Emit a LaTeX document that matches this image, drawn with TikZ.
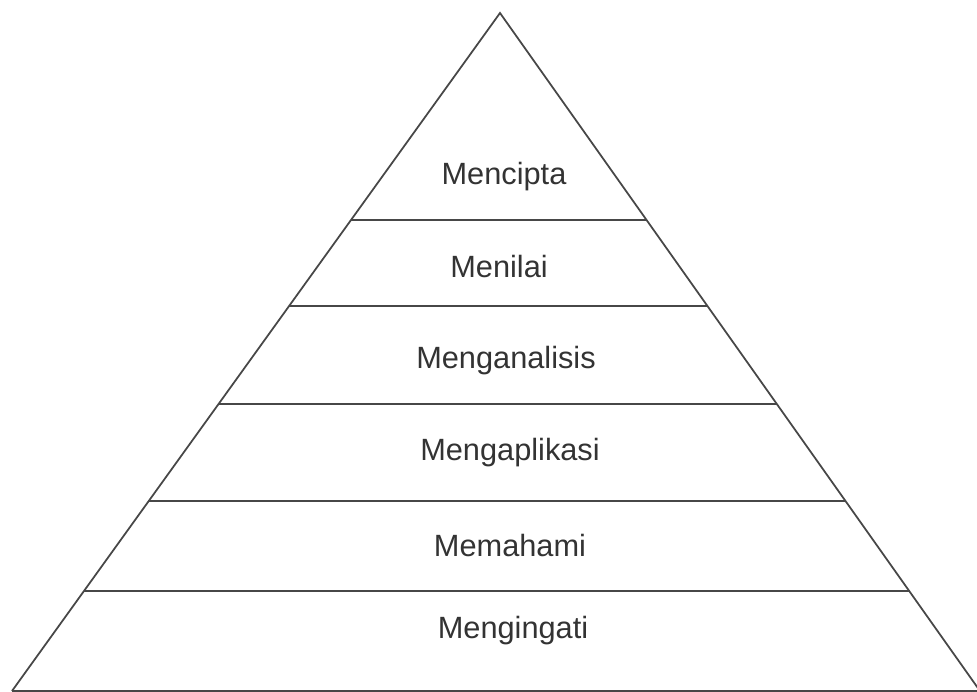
\documentclass[tikz,border=0pt]{standalone}
\usepackage{fontspec}
\setmainfont{Liberation Sans}
\usepackage{tikz}
\usetikzlibrary{calc}
\usepackage{xcolor}
\colorlet{myline}{black!72}
\colorlet{mytext}{black!80}

\begin{document}
\begin{tikzpicture}[ x=0.02cm, y=-0.02cm
                   , line width=1pt, color=myline
                   , level/.style={anchor=base, text=mytext, font=\fontsize{17.5}{20}\selectfont}
                   ]

      \useasboundingbox (0,0) rectangle (977,692);

      \coordinate (apex)  at (500,13);
      \coordinate (left)  at (12,691);
      \coordinate (right) at (980,691);

      \draw [-] (left) -- (apex) -- (right);
      \draw [-] (left) -- (right);

      \draw [-] ($(apex)!0.305!(left)$) -- ($(apex)!0.305!(right)$);
      \draw [-] ($(apex)!0.432!(left)$) -- ($(apex)!0.432!(right)$);
      \draw [-] ($(apex)!0.577!(left)$) -- ($(apex)!0.577!(right)$);
      \draw [-] ($(apex)!0.720!(left)$) -- ($(apex)!0.720!(right)$);
      \draw [-] ($(apex)!0.853!(left)$) -- ($(apex)!0.853!(right)$);

      \node (mencipta)     [level] at (504,185) {Mencipta};
      \node (menilai)      [level] at (499,278) {Menilai};
      \node (menganalisis) [level] at (506,369) {Menganalisis};
      \node (mengaplikasi) [level] at (510,460) {Mengaplikasi};
      \node (memahami)     [level] at (510,556) {Memahami};
      \node (mengingati)   [level] at (513,638) {Mengingati};

\end{tikzpicture}
\end{document}
